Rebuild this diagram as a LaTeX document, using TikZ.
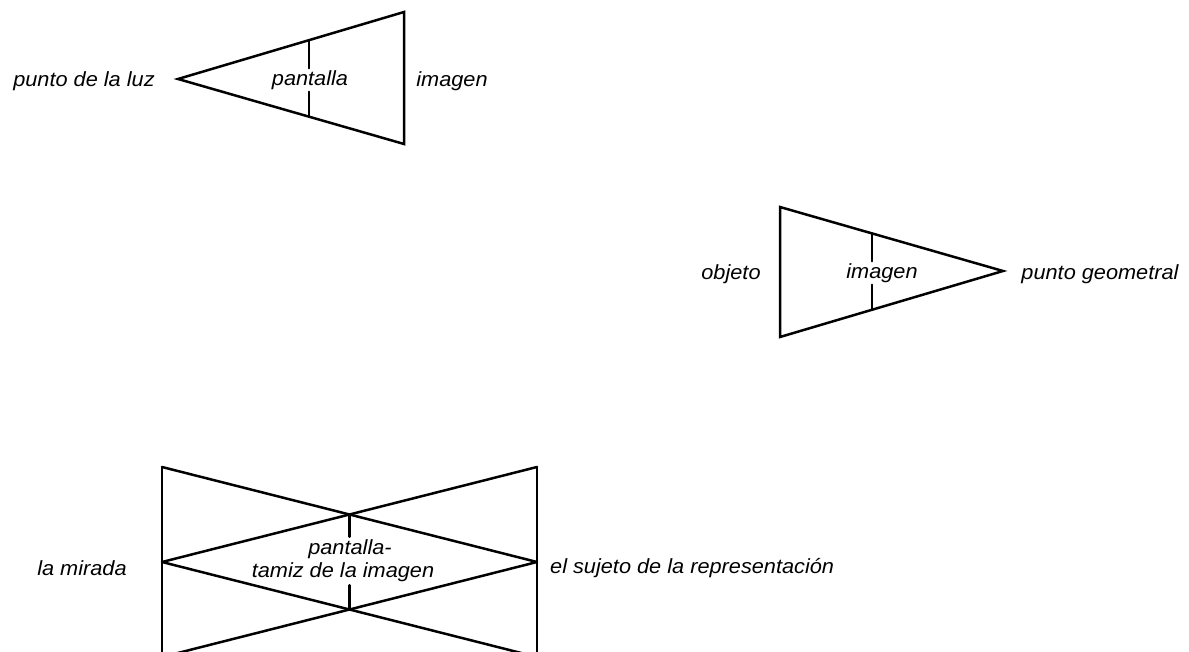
\documentclass[tikz,border=0pt]{standalone}
\usepackage{fontspec}
\setmainfont{Liberation Sans}
\newfontfamily\labelfont[FakeStretch=1.06]{Liberation Sans}
\usetikzlibrary{calc,intersections}
\begin{document}
\begin{tikzpicture}[x=1pt,y=-1pt,
  edge/.style={line width=2.5pt,line cap=round,line join=miter},
  lbl/.style={font=\labelfont\itshape\fontsize{20.5}{23}\selectfont,inner sep=2pt}]
\useasboundingbox (0,0) rectangle (1189,652);

% cone of light: source point, screen, image plane
\coordinate (A1) at (178,79);
\coordinate (T1) at (404,12);
\coordinate (B1) at (404,144);
\coordinate (S1t) at ($(A1)!0.58!(T1)$);
\coordinate (S1b) at ($(A1)!0.58!(B1)$);
\draw[edge] (T1) -- (A1) -- (B1) -- cycle;
\node[lbl] (luz) at (84,81) {punto de la luz};
\node[lbl] (pant1) at (310,80) {pantalla};
\node[lbl] (img1) at (452,81) {imagen};
\draw[edge] (S1t) -- (S1t |- pant1.north);
\draw[edge] (S1b |- pant1.south) -- (S1b);

% geometral cone: object, image, geometral point
\coordinate (T2) at (780,207);
\coordinate (B2) at (780,337);
\coordinate (A2) at (1003,271);
\coordinate (S2t) at ($(A2)!0.587!(T2)$);
\coordinate (S2b) at ($(A2)!0.587!(B2)$);
\draw[edge] (T2) -- (A2) -- (B2) -- cycle;
\node[lbl] (obj) at (731,274) {objeto};
\node[lbl] (img2) at (882,273) {imagen};
\node[lbl] (geo) at (1100,274) {punto geometral};
\draw[edge] (S2t) -- (S2t |- img2.north);
\draw[edge] (S2b |- img2.south) -- (S2b);

% the two crossed cones
\begin{scope}
\clip (0,0) rectangle (1189,652);
\coordinate (TL) at (162,467);
\coordinate (TR) at (537,467);
\coordinate (ML) at (162,562);
\coordinate (MR) at (537,562);
\coordinate (BL) at (162,657);
\coordinate (BR) at (537,657);
\draw[edge] (TL) -- (BL);
\draw[edge] (TR) -- (BR);
\draw[edge,name path=d1] (TL) -- (MR);
\draw[edge,name path=d2] (TR) -- (ML);
\draw[edge,name path=d3] (ML) -- (BR);
\draw[edge,name path=d4] (MR) -- (BL);
\path[name intersections={of=d1 and d2,by=Xt}];
\path[name intersections={of=d3 and d4,by=Xb}];
\node[lbl,align=center,inner sep=3pt] (tamiz) at (343,561)
  {\hspace*{14pt}pantalla-\\tamiz de la imagen};
\draw[edge] (Xt) -- (Xt |- tamiz.north);
\draw[edge] (Xb |- tamiz.south) -- (Xb);
\end{scope}
\node[lbl] (mirada) at (82,568) {la mirada};
\node[lbl,anchor=west] (sujeto) at (548,568) {el sujeto de la representación};
\end{tikzpicture}
\end{document}
